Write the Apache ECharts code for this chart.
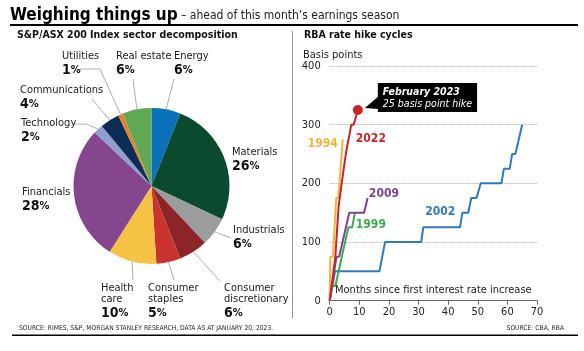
<!DOCTYPE html>
<html>
<head>
<meta charset="utf-8">
<script src="https://cdn.jsdelivr.net/npm/echarts@6/dist/echarts.min.js"></script>
<style>
  html, body { margin: 0; padding: 0; background: #fff; }
  #chart { width: 584px; height: 351px; }
</style>
</head>
<body>
<div id="chart"></div>
<script>
// sector weights, clockwise from 12 o'clock
const sectors = ['Energy', 'Materials', 'Industrials', 'Consumer\ndiscretionary', 'Consumer\nstaples',
  'Health\ncare', 'Financials', 'Technology', 'Communications', 'Utilities', 'Real estate'];
const weights = [6, 26, 6, 6, 5, 10, 28, 2, 4, 1, 6];

// rate hike cycles: [months since first hike, cumulative basis points]
const cycle2002 = [[0, 0], [1.8, 50], [16.8, 50], [18.7, 100], [30.9, 100], [31.6, 125], [44, 125], [44.8, 150],
  [46.8, 150], [47.8, 175], [49.6, 175], [51, 200], [58, 200], [58.8, 225], [60.8, 225], [61.6, 250],
  [62.7, 250], [65, 300]];
const cycle1999 = [[0, 0], [0.7, 25], [1.9, 25], [6.3, 125], [7.6, 125], [8.5, 150]];
const cycle2009 = [[0, 0], [2.3, 75], [3.2, 75], [6.6, 150], [11.6, 150], [12.8, 175]];
const cycle1994 = [[0, 0], [0.2, 75], [1.1, 75], [2.2, 175], [2.9, 175], [4.4, 275]];
const cycle2022 = [[0, 0], [1.9, 75], [3, 160], [4.2, 206], [5.6, 255], [7.3, 300], [8.1, 300], [9.5, 325]];
const latestHike = [9.5, 325];

const FONT = "'Liberation Sans Narrow', 'DejaVu Sans Condensed', 'Roboto', sans-serif";

const sectorColors = ['#0b72b9', '#0a4a2f', '#9b9c9e', '#8c2528', '#c8332f', '#f5c244',
  '#86458f', '#8fa0d0', '#0c2d55', '#e9812c', '#5ea856'];
// top-left of each pie label, and where its leader line bends / ends
const labelPos = [[174, 51], [232, 147], [233, 225], [224, 283], [148, 283], [101, 283],
  [22, 187], [21, 118], [20, 85], [62, 51], [116, 51]];
const leaderTo = [[[174, 79]], null, [[231, 238]], [[220, 281]], [[174, 280]], [[133, 280]],
  null, [[86, 124], [74, 124]], [[92, 99]], [[100, 69], [80, 69]], [[133, 79]]];

const cycleColors = { '2002': '#2f78c4', '1999': '#3bab49', '2009': '#7f3f98', '1994': '#f5b335', '2022': '#c8232c' };
// where each cycle's year label sits (data space) and which side of that point
const cycleLabels = {
  '2002': [[37.3, 151], 'inside'], '1999': [[13.9, 130], 'inside'], '2009': [[18.3, 182], 'inside'],
  '1994': [[3.1, 267], 'left'], '2022': [[13.9, 276], 'inside']
};

let chart = echarts.init(document.getElementById('chart'));

function cycleSeries (name, data) {
  return {
    name: name,
    type: 'line',
    data: data,
    showSymbol: false,
    lineStyle: { width: 2, color: cycleColors[name] },
    itemStyle: { color: cycleColors[name] },
    markPoint: {
      symbol: 'circle',
      symbolSize: 0,
      silent: true,
      data: [{ coord: cycleLabels[name][0] }],
      label: {
        show: true,
        position: cycleLabels[name][1],
        distance: 1,
        formatter: name,
        color: cycleColors[name],
        fontFamily: FONT,
        fontWeight: 'bold',
        fontSize: 12
      }
    }
  };
}

chart.setOption({
  animation: false,
  textStyle: { fontFamily: FONT },
  grid: { left: 329.7, right: 47, top: 66, bottom: 50.3 },
  xAxis: {
    type: 'value',
    min: 0,
    max: 70,
    interval: 10,
    axisLine: { lineStyle: { color: '#666', width: 1 } },
    axisTick: { show: true, length: 4, lineStyle: { color: '#666' } },
    axisLabel: { color: '#222', fontSize: 11, margin: 6, fontFamily: FONT },
    splitLine: { show: false },
    name: 'Months since first interest rate increase',
    nameLocation: 'middle',
    nameGap: -16,
    nameTextStyle: { color: '#222', fontSize: 11, fontFamily: FONT }
  },
  yAxis: {
    type: 'value',
    min: 0,
    max: 400,
    interval: 100,
    axisLine: { show: false },
    axisTick: { show: false },
    axisLabel: { color: '#222', fontSize: 11, margin: 9, fontFamily: FONT },
    splitLine: { lineStyle: { color: '#aaa', type: 'dotted', width: 1 } }
  },
  series: [
    {
      name: 'sectors',
      type: 'pie',
      center: [151.5, 186],
      radius: 78,
      startAngle: 90,
      clockwise: true,
      data: sectors.map((s, i) => ({
        name: s,
        value: weights[i],
        itemStyle: { color: sectorColors[i] },
        labelLine: { show: leaderTo[i] !== null }
      })),
      label: {
        show: true,
        position: 'outside',
        overflow: 'none',
        formatter: p => '{n|' + p.name + '}\n{p|' + p.value + '}{s|%}',
        rich: {
          n: { fontSize: 11, color: '#222', lineHeight: 11, fontFamily: FONT },
          p: { fontSize: 14, fontWeight: 'bold', color: '#111', lineHeight: 17, fontFamily: FONT },
          s: { fontSize: 11, fontWeight: 'bold', color: '#111', lineHeight: 17, fontFamily: FONT }
        }
      },
      labelLine: { show: true, length: 8, length2: 8, lineStyle: { color: '#999', width: 0.8 } },
      labelLayout: p => {
        let out = {
          x: labelPos[p.dataIndex][0],
          y: labelPos[p.dataIndex][1],
          align: 'left',
          verticalAlign: 'top',
          width: 120
        };
        let to = leaderTo[p.dataIndex];
        if (to && p.labelLinePoints) {
          let pts = [p.labelLinePoints[0]].concat(to);
          if (pts.length < 3) pts.push(to[to.length - 1]);
          out.labelLinePoints = pts;
        }
        return out;
      }
    },
    cycleSeries('2002', cycle2002),
    cycleSeries('1999', cycle1999),
    cycleSeries('2009', cycle2009),
    cycleSeries('1994', cycle1994),
    cycleSeries('2022', cycle2022),
    {
      name: 'latest',
      type: 'scatter',
      data: [latestHike],
      symbolSize: 10,
      itemStyle: { color: '#c8232c', opacity: 1 },
      z: 5,
      label: {
        show: true,
        position: [25, -22],
        align: 'left',
        verticalAlign: 'top',
        backgroundColor: '#000',
        padding: [3, 5, 2, 5],
        formatter: '{a|February 2023}\n{b|25 basis point hike}',
        rich: {
          a: { color: '#fff', fontWeight: 'bold', fontStyle: 'italic', fontSize: 10.5, lineHeight: 12, fontFamily: FONT },
          b: { color: '#fff', fontStyle: 'italic', fontSize: 10.5, lineHeight: 12, fontFamily: FONT }
        }
      }
    }
  ]
});

// callout pointer next to the latest hike dot
let dot = chart.convertToPixel({ gridIndex: 0 }, latestHike);

chart.setOption({
  graphic: [
    {
      type: 'text', left: 10, top: 7,
      style: {
        text: '{a|Weighing things up} {b|– ahead of this month’s earnings season}',
        rich: {
          a: { fontSize: 17, fontWeight: 'bold', fill: '#000', fontFamily: FONT },
          b: { fontSize: 12, fill: '#222', fontFamily: FONT }
        }
      }
    },
    { type: 'rect', shape: { x: 10, y: 24, width: 568, height: 2 }, style: { fill: '#000' } },
    { type: 'text', left: 17, top: 30, style: { text: 'S&P/ASX 200 Index sector decomposition', fontSize: 10.5, fontWeight: 'bold', fill: '#111', fontFamily: FONT } },
    { type: 'text', left: 304, top: 30, style: { text: 'RBA rate hike cycles', fontSize: 10.5, fontWeight: 'bold', fill: '#111', fontFamily: FONT } },
    { type: 'line', shape: { x1: 292.5, y1: 31, x2: 292.5, y2: 318 }, style: { stroke: '#999', lineWidth: 1 } },
    { type: 'text', left: 303, top: 50, style: { text: 'Basis points', fontSize: 11, fill: '#222', fontFamily: FONT } },
    {
      type: 'polygon',
      shape: { points: [[dot[0] + 7, dot[1] - 2], [dot[0] + 21, dot[1] - 14], [dot[0] + 21, dot[1] - 1]] },
      style: { fill: '#000' }
    },
    { type: 'text', left: 19, top: 324.5, style: { text: 'SOURCE: RIMES, S&P, MORGAN STANLEY RESEARCH, DATA AS AT JANUARY 20, 2023.', fontSize: 6.7, fill: '#222', fontFamily: FONT } },
    { type: 'text', right: 20, top: 324.5, style: { text: 'SOURCE: CBA, RBA', fontSize: 6.7, fill: '#222', fontFamily: FONT } },
    { type: 'rect', shape: { x: 12, y: 334.5, width: 566, height: 1.5 }, style: { fill: '#000' } }
  ]
});
</script>
</body>
</html>
